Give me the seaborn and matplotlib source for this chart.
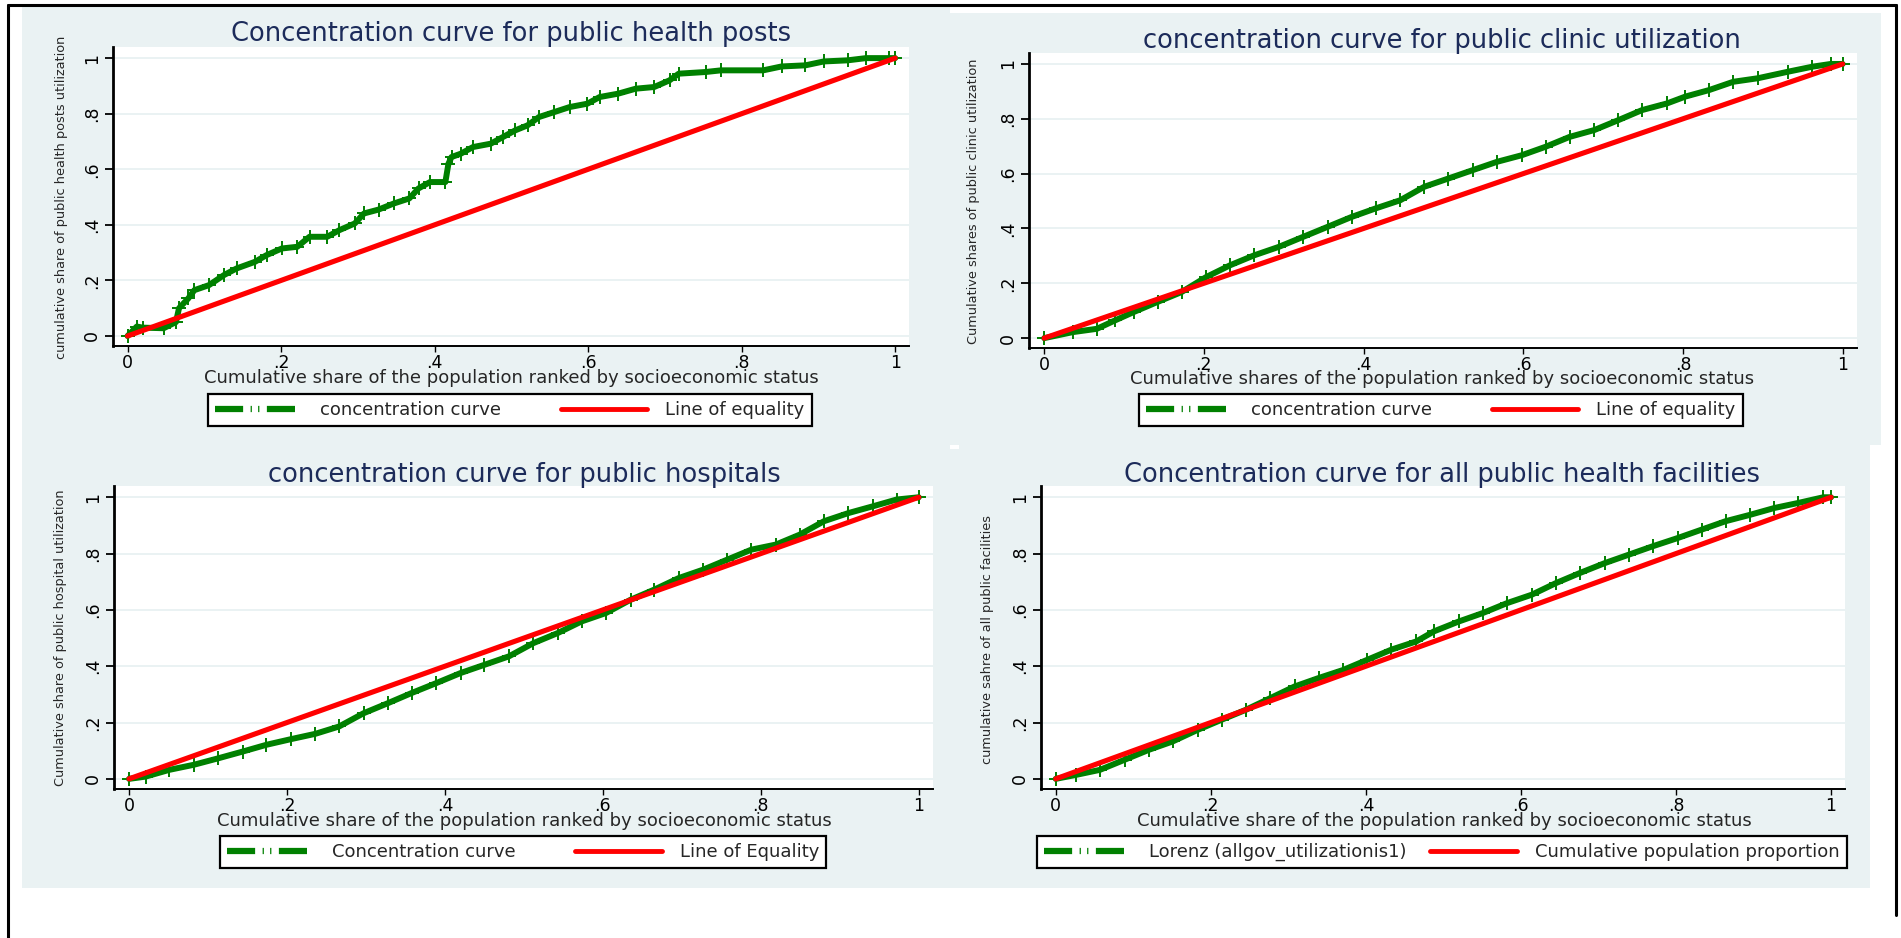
import numpy as np
import pandas as pd
import matplotlib
matplotlib.use("Agg")
import matplotlib.pyplot as plt
import seaborn as sns
from matplotlib.lines import Line2D
from matplotlib.patches import Rectangle

# concentration curves, values
posts_x = [0, 0.012, 0.02, 0.047, 0.063, 0.067, 0.079, 0.087, 0.106, 0.126, 0.142, 0.166, 0.181,
           0.201, 0.221, 0.237, 0.26, 0.276, 0.296, 0.308, 0.327, 0.347, 0.367, 0.379, 0.394,
           0.414, 0.418, 0.422, 0.434, 0.45, 0.473, 0.489, 0.505, 0.521, 0.536, 0.556, 0.576,
           0.599, 0.615, 0.639, 0.662, 0.686, 0.706, 0.718, 0.753, 0.773, 0.828, 0.852, 0.883,
           0.907, 0.938, 0.962, 0.992, 1.0]
posts_y = [0, 0.034, 0.03, 0.028, 0.05, 0.10, 0.135, 0.165, 0.183, 0.22, 0.243, 0.267, 0.291,
           0.315, 0.321, 0.357, 0.357, 0.381, 0.405, 0.441, 0.455, 0.477, 0.495, 0.531, 0.554,
           0.554, 0.62, 0.644, 0.656, 0.68, 0.692, 0.716, 0.74, 0.758, 0.788, 0.806, 0.824,
           0.836, 0.86, 0.872, 0.89, 0.896, 0.92, 0.944, 0.95, 0.956, 0.956, 0.97, 0.974,
           0.988, 0.992, 1.0, 1.0, 1.0]

clinic_x = [0, 0.036, 0.066, 0.089, 0.112, 0.142, 0.172, 0.203, 0.233, 0.263, 0.294, 0.324,
            0.355, 0.385, 0.415, 0.446, 0.476, 0.506, 0.537, 0.567, 0.598, 0.628, 0.658, 0.689,
            0.719, 0.749, 0.78, 0.803, 0.833, 0.863, 0.894, 0.932, 0.962, 0.985, 1.0]
clinic_y = [0, 0.022, 0.034, 0.065, 0.095, 0.132, 0.168, 0.223, 0.266, 0.302, 0.333, 0.369,
            0.406, 0.442, 0.473, 0.503, 0.552, 0.582, 0.613, 0.643, 0.667, 0.698, 0.734, 0.759,
            0.795, 0.832, 0.856, 0.881, 0.905, 0.935, 0.948, 0.972, 0.99, 1.0, 1.0]

hosp_x = [0, 0.021, 0.051, 0.082, 0.113, 0.144, 0.174, 0.205, 0.236, 0.266, 0.297, 0.328,
          0.358, 0.389, 0.42, 0.45, 0.481, 0.512, 0.543, 0.573, 0.604, 0.635, 0.665, 0.696,
          0.727, 0.757, 0.788, 0.819, 0.849, 0.88, 0.911, 0.942, 0.972, 1.0]
hosp_y = [0, 0.008, 0.032, 0.05, 0.073, 0.097, 0.121, 0.141, 0.16, 0.186, 0.233, 0.269,
          0.305, 0.34, 0.376, 0.405, 0.435, 0.482, 0.518, 0.559, 0.589, 0.636, 0.672, 0.713,
          0.743, 0.778, 0.814, 0.832, 0.867, 0.915, 0.944, 0.968, 0.992, 1.0]

allpub_x = [0, 0.026, 0.057, 0.089, 0.12, 0.151, 0.183, 0.214, 0.245, 0.277, 0.308, 0.339,
            0.371, 0.402, 0.433, 0.465, 0.488, 0.52, 0.551, 0.582, 0.614, 0.645, 0.676, 0.708,
            0.739, 0.77, 0.802, 0.833, 0.864, 0.896, 0.927, 0.958, 0.99, 1.0]
allpub_y = [0, 0.014, 0.032, 0.068, 0.103, 0.133, 0.174, 0.21, 0.245, 0.287, 0.328, 0.358,
            0.387, 0.423, 0.459, 0.488, 0.524, 0.559, 0.589, 0.624, 0.654, 0.695, 0.731, 0.766,
            0.796, 0.826, 0.855, 0.885, 0.915, 0.938, 0.962, 0.98, 1.0, 1.0]

equal_x = [0, 1]
equal_y = [0, 1]

ticks = [0, 0.2, 0.4, 0.6, 0.8, 1]
tick_labels = ["0", ".2", ".4", ".6", ".8", "1"]

titles = ["Concentration curve for public health posts",
          "concentration curve for public clinic utilization",
          "concentration curve for public hospitals",
          "Concentration curve for all public health facilities"]
ylabels = ["cumulative share of public health posts utilization",
           "Cumulative shares of public clinic utilization",
           "Cumulative share of public hospital utilization",
           "cumulative sahre of all public facilities"]
xlabels = ["Cumulative share of the population ranked by socioeconomic status",
           "Cumulative shares of the population ranked by socioeconomic status",
           "Cumulative share of the population ranked by socioeconomic status",
           "Cumulative share of the population ranked by socioeconomic status"]
curve_labels = ["concentration curve", "concentration curve",
                "Concentration curve", "Lorenz (allgov_utilizationis1)"]
equal_labels = ["Line of equality", "Line of equality",
                "Line of Equality", "Cumulative population proportion"]

curves = [(posts_x, posts_y), (clinic_x, clinic_y), (hosp_x, hosp_y), (allpub_x, allpub_y)]

# pixel layout (top-left origin) of each panel
W, H = 1901, 938
layout = [
    dict(bg=(22, 6, 950, 449), ax=(113, 47, 909, 346), title=(511, 34), xlab=(511, 378),
         ylab=(61, 197), leg=(510, 410), colsp=3.3),
    dict(bg=(950, 13, 1881, 445), ax=(1029, 53, 1857, 348), title=(1442, 41), xlab=(1442, 379),
         ylab=(974, 201), leg=(1441, 410), colsp=3.3),
    dict(bg=(22, 449, 959, 888), ax=(114, 486, 933, 789), title=(524, 475), xlab=(524, 821),
         ylab=(61, 638), leg=(523, 852), colsp=3.3),
    dict(bg=(959, 445, 1870, 888), ax=(1041, 486, 1845, 789), title=(1442, 475), xlab=(1444, 821),
         ylab=(988, 639), leg=(1442, 852), colsp=1.3),
]

BG = "#eaf2f3"
GREEN = "#008000"
RED = "#ff0000"
NAVY = "#1c2b5a"

sns.set_style("white")
plt.rcParams["font.family"] = ["DejaVu Sans"]

fig = plt.figure(figsize=(W / 100, H / 100), dpi=100, facecolor="white")

for i, lay in enumerate(layout):
    bx0, by0, bx1, by1 = lay["bg"]
    fig.add_artist(Rectangle((bx0 / W, 1 - by1 / H), (bx1 - bx0) / W, (by1 - by0) / H,
                             transform=fig.transFigure, facecolor=BG, edgecolor="none", zorder=0))

    x0, y0, x1, y1 = lay["ax"]
    ax = fig.add_axes([x0 / W, 1 - y1 / H, (x1 - x0) / W, (y1 - y0) / H])
    ax.set_facecolor("white")

    def ax_x(px):
        return (px - x0) / (x1 - x0)

    def ax_y(py):
        return (y1 - py) / (y1 - y0)

    cx, cy = curves[i]
    df = pd.DataFrame({"x": cx, "y": cy})
    sns.lineplot(data=df, x="x", y="y", ax=ax, color=GREEN, linewidth=4.3, sort=False,
                 marker="+", markersize=10, markeredgewidth=1.4, markeredgecolor=GREEN, zorder=3)
    eq = pd.DataFrame({"x": equal_x, "y": equal_y})
    sns.lineplot(data=eq, x="x", y="y", ax=ax, color=RED, linewidth=3.7, zorder=4)

    ax.set_xlim(-0.019, 1.018)
    ax.set_ylim(-0.036, 1.04)
    ax.set_xticks(ticks)
    ax.set_xticklabels(tick_labels)
    ax.set_yticks(ticks)
    ax.set_yticklabels(tick_labels)
    ax.yaxis.grid(True, color=BG, linewidth=1.4)
    ax.xaxis.grid(False)
    ax.set_axisbelow(True)

    for s in ["top", "right"]:
        ax.spines[s].set_visible(False)
    ax.spines["left"].set_linewidth(2.0)
    ax.spines["bottom"].set_linewidth(1.4)
    ax.spines["left"].set_color("black")
    ax.spines["bottom"].set_color("black")

    ax.tick_params(axis="x", direction="out", length=4, width=1.0, pad=1.5,
                   labelsize=12.5, colors="black", bottom=True)
    ax.tick_params(axis="y", direction="out", length=5.8, width=1.3, pad=3,
                   labelsize=12.5, colors="black", left=True, labelrotation=90)
    for lab in ax.get_yticklabels():
        lab.set_va("center")

    ax.set_title(titles[i], fontsize=18.5, color=NAVY, x=ax_x(lay["title"][0]),
                 y=ax_y(lay["title"][1]), va="center", pad=0)

    ax.set_xlabel(xlabels[i], fontsize=13)
    ax.xaxis.label.set_va("center")
    ax.xaxis.set_label_coords(ax_x(lay["xlab"][0]), ax_y(lay["xlab"][1]))
    ax.set_ylabel(ylabels[i], fontsize=9.3)
    ax.yaxis.label.set_va("center")
    ax.yaxis.set_label_coords(ax_x(lay["ylab"][0]), ax_y(lay["ylab"][1]))

    handles = [
        Line2D([], [], color=GREEN, linewidth=4.5, dashes=(4.5, 1.2, 0.2, 1.0, 0.2, 1.2),
               solid_capstyle="butt", dash_capstyle="butt"),
        Line2D([], [], color=RED, linewidth=3.5),
    ]
    leg = ax.legend(handles, [curve_labels[i], equal_labels[i]], loc="center",
                    bbox_to_anchor=(ax_x(lay["leg"][0]), ax_y(lay["leg"][1])), ncol=2,
                    fontsize=13, frameon=True, fancybox=False, framealpha=1,
                    edgecolor="black", facecolor="white", handlelength=4.8,
                    handletextpad=1.0, columnspacing=lay["colsp"], borderpad=0.4)
    leg.get_frame().set_linewidth(1.6)

# outer frame
frame_kw = dict(transform=fig.transFigure, color="black", linewidth=2.2)
fig.add_artist(Line2D([8 / W, 1896 / W], [1 - 5 / H, 1 - 5 / H], **frame_kw))
fig.add_artist(Line2D([8 / W, 8 / W], [1 - 5 / H, 0], **frame_kw))
fig.add_artist(Line2D([1896 / W, 1896 / W], [1 - 5 / H, 1 - 915 / H], **frame_kw))

fig.savefig("out.png", dpi=100, facecolor="white")
